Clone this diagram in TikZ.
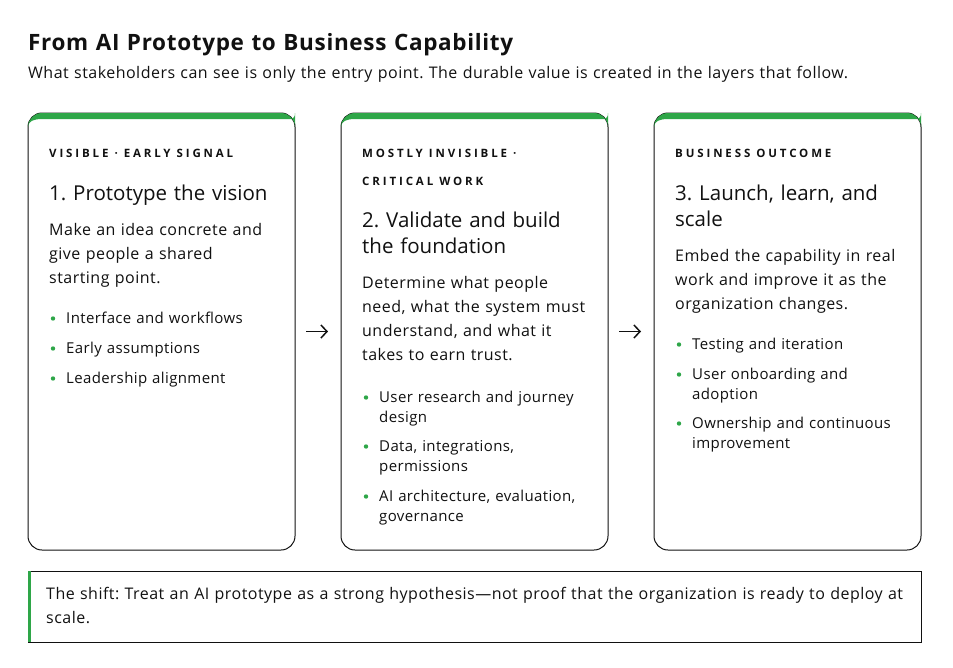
\documentclass[tikz,border=0pt]{standalone}
\usepackage{fontspec}
\setmainfont{Open Sans}
\usetikzlibrary{arrows.meta}
\frenchspacing
\definecolor{accent}{HTML}{2EA648}
\definecolor{ink}{HTML}{111111}
\newcommand{\cardWidth}[0]{267pt}
\newcommand{\cardHeight}[0]{437pt}
\newcommand{\gap}[0]{\hspace{6pt}}
\newcommand{\greenTop}[1]{%
  \fill[accent] ([yshift=-14pt]#1.north west) [rounded corners=14pt] -- (#1.north west) -- (#1.north east) -- ([yshift=-14pt]#1.north east) [sharp corners]
    .. controls ([yshift=-8pt]#1.north east) and ([shift={(-6pt,-6pt)}]#1.north east) .. ([shift={(-14pt,-6pt)}]#1.north east)
    -- ([shift={(14pt,-6pt)}]#1.north west)
    .. controls ([shift={(6pt,-6pt)}]#1.north west) and ([yshift=-8pt]#1.north west) .. ([yshift=-14pt]#1.north west) -- cycle;}
\newcommand{\point}[4]{%
  \node[item] (#1) at (#2,#3) {#4};
  \fill[accent] ([shift={(-13pt,-9.5pt)}]#1.north west) circle (2.2pt);}

\begin{document}
\begin{tikzpicture}[x=1pt, y=-1pt, every node/.style={text=ink}]
  \tikzset{
    txt/.style={inner sep=0, anchor=north west, text width=250pt, align=left, execute at begin node=\noindent\strut},
    heading/.style={txt, text width=900pt, yshift=19.6pt, font=\fontsize{22.5}{28}\selectfont\bfseries\addfontfeatures{LetterSpace=3}},
    lead/.style={txt, text width=900pt, yshift=14pt, font=\fontsize{16}{20}\selectfont\addfontfeatures{LetterSpace=3}},
    tag/.style={txt, yshift=19.6pt, font=\fontsize{11.5}{28}\selectfont\bfseries\addfontfeatures{LetterSpace=25}},
    cardTitle/.style={txt, yshift=18.2pt, font=\fontsize{20.5}{26}\selectfont},
    body/.style={txt, yshift=16.8pt, font=\fontsize{16}{24}\selectfont\addfontfeatures{LetterSpace=3}},
    item/.style={txt, yshift=14pt, font=\fontsize{15}{20}\selectfont\addfontfeatures{LetterSpace=2.5}},
    card/.style={draw=ink, line width=1pt, rounded corners=14pt, fill=white,
      minimum width=\cardWidth, minimum height=\cardHeight, inner sep=0, outer sep=0},
    note/.style={draw=ink, line width=1pt, minimum width=893pt, minimum height=71pt, inner sep=0, outer sep=0},
    flow/.style={-{Straight Barb[length=6pt, width=13pt]}, line width=1.5pt, draw=ink}
  }
  \useasboundingbox (0,0) rectangle (953,667);

  \node[heading] (title) at (28,50) {From AI Prototype to Business Capability};
  \node[lead] (subtitle) at (28,78) {What stakeholders can see is only the entry point. The durable value is created in the layers that follow.};

  \node[card] (card-1) at (161.5,331.5) {};
  \node[card] (card-2) at (474.5,331.5) {};
  \node[card] (card-3) at (787.5,331.5) {};
  \greenTop{card-1}
  \greenTop{card-2}
  \greenTop{card-3}

  \draw[flow] ([xshift=11pt]card-1.east) -- ([xshift=-13pt]card-2.west);
  \draw[flow] ([xshift=11pt]card-2.east) -- ([xshift=-13pt]card-3.west);

  \node[tag] (tag-1) at (49,157) {VISIBLE\gap·\gap EARLY\gap SIGNAL};
  \node[cardTitle] (title-1) at (49,200) {1. Prototype the vision};
  \node[body] (body-1) at (49,235) {Make an idea concrete and\\give people a shared\\starting point.};
  \point{item-1-1}{66}{323}{Interface and workflows}
  \point{item-1-2}{66}{353}{Early assumptions}
  \point{item-1-3}{66}{383}{Leadership alignment}

  \node[tag] (tag-2) at (362,157) {MOSTLY\gap INVISIBLE\gap·\\CRITICAL\gap WORK};
  \node[cardTitle] (title-2) at (362,227) {2. Validate and build\\the foundation};
  \node[body] (body-2) at (362,288) {Determine what people\\need, what the system must\\understand, and what it\\takes to earn trust.};
  \point{item-2-1}{379}{402}{User research and journey\\design}
  \point{item-2-2}{379}{451}{Data, integrations,\\permissions}
  \point{item-2-3}{379}{501}{AI architecture, evaluation,\\governance}

  \node[tag] (tag-3) at (675,157) {BUSINESS\gap OUTCOME};
  \node[cardTitle] (title-3) at (675,200) {3. Launch, learn, and\\scale};
  \node[body] (body-3) at (675,261) {Embed the capability in real\\work and improve it as the\\organization changes.};
  \point{item-3-1}{692}{349}{Testing and iteration}
  \point{item-3-2}{692}{379}{User onboarding and\\adoption}
  \point{item-3-3}{692}{428}{Ownership and continuous\\improvement}

  \node[note] (shift) at (474.5,606.5) {};
  \fill[accent] (shift.north west) rectangle ([xshift=3pt]shift.south west);
  \node[body, text width=880pt] (shift-text) at (46,599) {The shift: Treat an AI prototype as a strong hypothesis—not proof that the organization is ready to deploy at\\scale.};
\end{tikzpicture}
\end{document}
